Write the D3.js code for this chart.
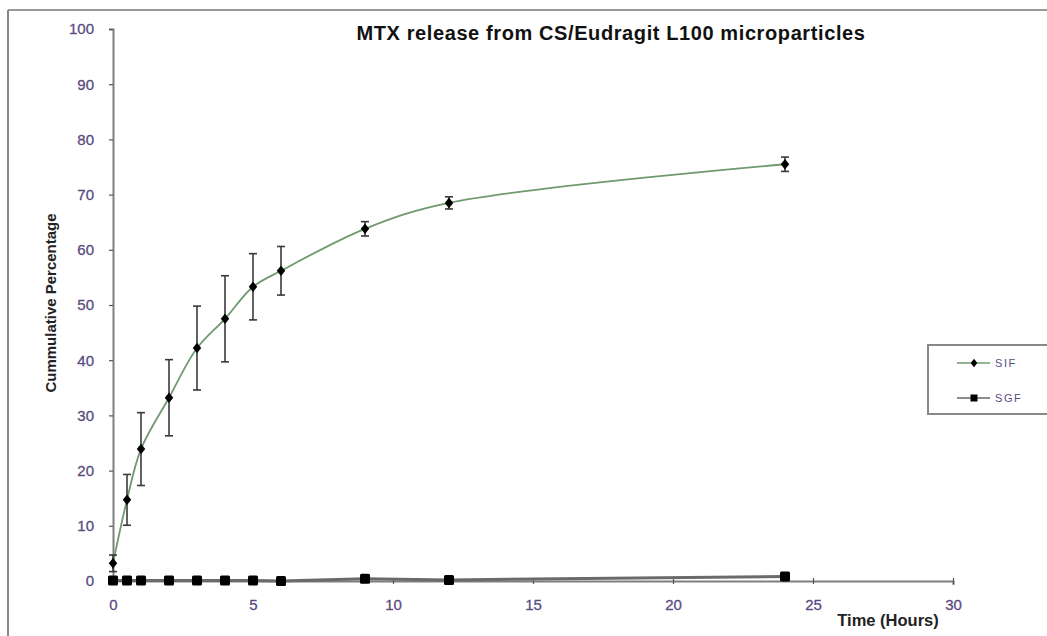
<!DOCTYPE html>
<html><head><meta charset="utf-8">
<script src="https://cdn.jsdelivr.net/npm/d3@7"></script>
<style>body{margin:0;background:#fff}svg{display:block}</style>
</head><body><svg id="c" width="1047" height="636"></svg>
<script>
const time = [0, 0.5, 1, 2, 3, 4, 5, 6, 9, 12, 24];
const sifValues = [3.2, 14.7, 23.9, 33.2, 42.2, 47.5, 53.3, 56.2, 63.8, 68.5, 75.5];
const sifErrors = [1.5, 4.6, 6.6, 6.9, 7.6, 7.8, 6.0, 4.4, 1.3, 1.1, 1.3];
const sgfValues = [0.1, 0.1, 0.1, 0.1, 0.1, 0.1, 0.1, 0.0, 0.4, 0.2, 0.8];
const xTicks = [0, 5, 10, 15, 20, 25, 30];
const yTicks = [0, 10, 20, 30, 40, 50, 60, 70, 80, 90, 100];
const seriesNames = ["SIF", "SGF"];

const svg = d3.select("#c");
const x = d3.scaleLinear().domain([0, 30]).range([113, 953]);
const y = d3.scaleLinear().domain([0, 100]).range([581, 29]);
const labelColor = "#5a4a82";
const axisColor = "#7f7f7f";
const font = "Liberation Sans, Arial, sans-serif";

// outer frame
svg.append("line").attr("x1", 8).attr("y1", 10).attr("x2", 1047).attr("y2", 10).attr("stroke", "#999").attr("stroke-width", 2);
svg.append("line").attr("x1", 8).attr("y1", 10).attr("x2", 8).attr("y2", 636).attr("stroke", "#888").attr("stroke-width", 2);

// axes
const yAxis = svg.append("g").attr("transform", `translate(${x(0)},0)`)
  .call(d3.axisLeft(y).tickValues(yTicks).tickSize(4).tickPadding(15));
const xAxis = svg.append("g").attr("transform", `translate(0,${y(0)})`)
  .call(d3.axisBottom(x).tickValues(xTicks).tickSize(4).tickPadding(14));
[yAxis, xAxis].forEach(g => {
  g.select(".domain").attr("stroke", axisColor).attr("stroke-width", 2);
  g.selectAll(".tick line").attr("stroke", "#555").attr("stroke-width", 1.2);
  g.selectAll(".tick text").attr("fill", labelColor).attr("font-family", font).attr("font-size", 15)
    .attr("stroke", labelColor).attr("stroke-width", 0.3);
});
xAxis.selectAll(".tick line").attr("y1", -3).attr("y2", 3);

// SGF line
const sgf = time.map((t, i) => ({t, v: sgfValues[i]}));
svg.append("path").datum(sgf)
  .attr("d", d3.line().x(d => x(d.t)).y(d => y(d.v)))
  .attr("fill", "none").attr("stroke", "#6a6a6a").attr("stroke-width", 3);
svg.selectAll(".sq").data(sgf).enter().append("rect")
  .attr("x", d => x(d.t) - 5).attr("y", d => y(d.v) - 5)
  .attr("width", 10).attr("height", 10).attr("rx", 1.5).attr("fill", "#000");

// SIF
const sif = time.map((t, i) => ({t, v: sifValues[i], e: sifErrors[i]}));
svg.append("path").datum(sif)
  .attr("d", d3.line().curve(d3.curveCatmullRom.alpha(0.5)).x(d => x(d.t)).y(d => y(d.v)))
  .attr("fill", "none").attr("stroke", "#6f9a6f").attr("stroke-width", 1.8);
const eb = svg.selectAll(".eb").data(sif).enter().append("g").attr("stroke", "#3a3a3a").attr("stroke-width", 1.6);
eb.append("line").attr("x1", d => x(d.t)).attr("x2", d => x(d.t)).attr("y1", d => y(d.v - d.e)).attr("y2", d => y(d.v + d.e));
eb.append("line").attr("x1", d => x(d.t) - 4).attr("x2", d => x(d.t) + 4).attr("y1", d => y(d.v + d.e)).attr("y2", d => y(d.v + d.e));
eb.append("line").attr("x1", d => x(d.t) - 4).attr("x2", d => x(d.t) + 4).attr("y1", d => y(d.v - d.e)).attr("y2", d => y(d.v - d.e));
const diamond = d3.symbol().type(d3.symbolDiamond).size(32);
svg.selectAll(".dm").data(sif).enter().append("path")
  .attr("d", diamond).attr("transform", d => `translate(${x(d.t)},${y(d.v)}) scale(1.4,1)`).attr("fill", "#000");

// titles
svg.append("text").attr("x", 611).attr("y", 40).attr("text-anchor", "middle")
  .attr("font-family", font).attr("font-weight", "bold").attr("font-size", 20).attr("letter-spacing", 0.6).attr("fill", "#111")
  .text("MTX release from CS/Eudragit L100 microparticles");
svg.append("text").attr("transform", "translate(56,303) rotate(-90)").attr("text-anchor", "middle")
  .attr("font-family", font).attr("font-weight", "bold").attr("font-size", 15).attr("fill", "#222")
  .text("Cummulative Percentage");
svg.append("text").attr("x", 888).attr("y", 626).attr("text-anchor", "middle")
  .attr("font-family", font).attr("font-weight", "bold").attr("font-size", 16.5).attr("fill", "#222")
  .text("Time (Hours)");

// legend
svg.append("rect").attr("x", 928).attr("y", 345).attr("width", 130).attr("height", 69)
  .attr("fill", "#fff").attr("stroke", "#888").attr("stroke-width", 2);
const lg = svg.selectAll(".lg").data(seriesNames).enter().append("g")
  .attr("transform", (d, i) => `translate(957,${363 + i * 35})`);
lg.append("line").attr("x1", 0).attr("x2", 33).attr("stroke", (d, i) => i === 0 ? "#6f9a6f" : "#666").attr("stroke-width", 1.5);
lg.append("path").attr("d", (d, i) => i === 0 ? d3.symbol().type(d3.symbolDiamond).size(22)() : "M-3.5,-3.5h7v7h-7z")
  .attr("transform", (d, i) => i === 0 ? "translate(17,0) scale(1.3,1)" : "translate(17,0)").attr("fill", "#000");
lg.append("text").attr("x", 38).attr("y", 4).attr("font-family", font).attr("font-size", 11)
  .attr("fill", labelColor).attr("letter-spacing", 1.6).text(d => d);
</script></body></html>
